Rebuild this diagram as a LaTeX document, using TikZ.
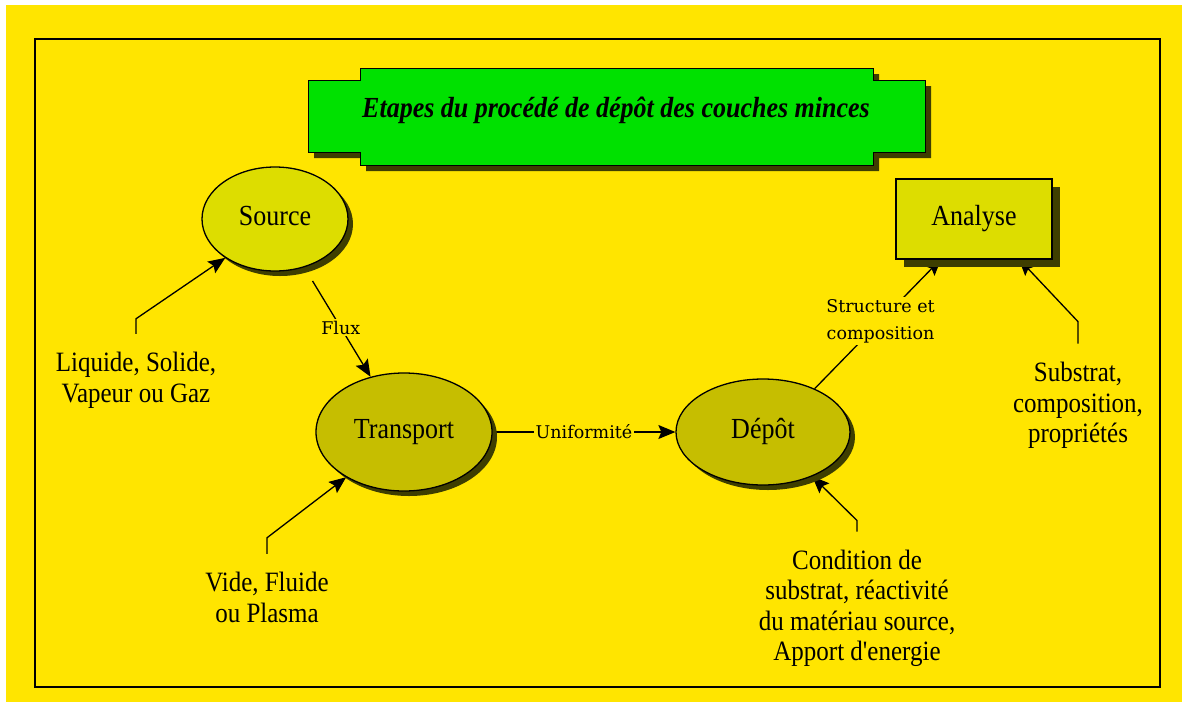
\documentclass[tikz,border=0pt]{standalone}
\usepackage{fontspec}
\setmainfont{Liberation Serif}
\newfontfamily\tagfont{DejaVu Serif}
\usepackage{graphicx}
\usetikzlibrary{arrows.meta, shapes.geometric, shadows, calc}

\definecolor{paper}{RGB}{255,229,0}
\definecolor{banner}{RGB}{0,225,0}
\definecolor{pale}{RGB}{221,221,0}
\definecolor{olive}{RGB}{198,190,0}
\definecolor{murk}{RGB}{62,62,0}

\newcommand{\tall}[1]{\scalebox{1}[1.12]{\begin{tabular}{@{}c@{}}#1\end{tabular}}}

\pgfdeclarelayer{sheet}
\pgfdeclarelayer{wires}
\pgfsetlayers{sheet,wires,main}

\tikzset{
	stage/.style={ellipse, draw=black, line width=1.3pt, inner sep=0pt,
		font=\fontsize{26}{28}\selectfont,
		drop shadow={shadow xshift=5pt, shadow yshift=-5pt, fill=murk, opacity=1}},
	note/.style={inner sep=2pt, outer sep=15pt, font=\fontsize{25}{27}\selectfont},
	tag/.style={fill=paper, inner sep=2pt, font=\tagfont\fontsize{17.5}{27}\selectfont},
	pointer/.style={draw=black, line width=1.3pt, -{Stealth[length=17pt, width=14pt, inset=3pt]}},
}

\begin{document}
\begin{tikzpicture}[x=1pt, y=-1pt]
	\def\W{1182}
	\def\H{702}

	\useasboundingbox (0,0) rectangle (\W,\H);
	\begin{pgfonlayer}{sheet}
		\fill[white]			(0,0) rectangle (\W,\H);
		\fill[paper]			(6,5) rectangle (\W,\H);
		\draw[line width=2.5pt]	(35,39) rectangle (1160,687);
	\end{pgfonlayer}

	% title banner
	\fill[murk, shift={(6,6)}]	(360,68) -- (873,68) -- (873,80) -- (925,80) -- (925,152) -- (873,152) -- (873,165) -- (360,165) -- (360,152) -- (308,152) -- (308,80) -- (360,80) -- cycle;
	\filldraw[fill=banner, line width=1pt]	(360,68) -- (873,68) -- (873,80) -- (925,80) -- (925,152) -- (873,152) -- (873,165) -- (360,165) -- (360,152) -- (308,152) -- (308,80) -- (360,80) -- cycle;
	\node[font=\fontsize{26}{28}\selectfont\bfseries\itshape] (title) at (616,111) {\tall{Etapes du procédé de dépôt des couches minces}};

	% stages
	\node[stage, fill=pale, minimum width=146pt, minimum height=104pt] (src) at (275,219) {\tall{Source}};
	\node[stage, fill=olive, minimum width=176pt, minimum height=118pt] (trn) at (404,432) {\tall{Transport}};
	\node[stage, fill=olive, minimum width=174pt, minimum height=106pt] (dep) at (763,432) {\tall{Dépôt}};
	\node[rectangle, draw=black, line width=1.3pt, fill=pale, minimum width=156pt, minimum height=80pt,
		font=\fontsize{26}{28}\selectfont,
		drop shadow={shadow xshift=8pt, shadow yshift=-8pt, fill=murk, opacity=1}] (ana) at (974,219) {\tall{Analyse}};

	% notes
	\node[note] (liq) at (136,381) {\tall{Liquide, Solide,\\Vapeur ou Gaz}};
	\node[note] (vid) at (267,601) {\tall{Vide, Fluide\\ou Plasma}};
	\node[note] (cnd) at (857,609) {\tall{Condition de\\substrat, réactivité\\du matériau source,\\Apport d\textquotesingle energie}};
	\node[note] (sub) at (1078,406) {\tall{Substrat,\\composition,\\propriétés}};

	\begin{pgfonlayer}{wires}
		\draw[pointer]	(liq.north) -- ++(0,-15) -- (src.218);
		\draw[pointer]	(vid.north) -- ++(0,-16) -- (trn.218);
		\draw[pointer]	(cnd.north) -- ++(0,-11) -- (dep.318);
		\draw[pointer]	(sub.north) -- ++(0,-22) -- ([xshift=-34pt, yshift=1pt]ana.south east);
		\draw[pointer, shorten <=16pt]	(src) -- node[tag, pos=0.55] (flux) {Flux} (trn);
		\draw[pointer]	(trn.east) -- node[tag] (unif) {Uniformité} (dep.west);
		\draw[pointer]	(dep.40) -- node[tag, align=center, pos=0.52] (struct) {Structure et\\composition} ([xshift=46pt, yshift=1pt]ana.south west);
	\end{pgfonlayer}
\end{tikzpicture}
\end{document}
